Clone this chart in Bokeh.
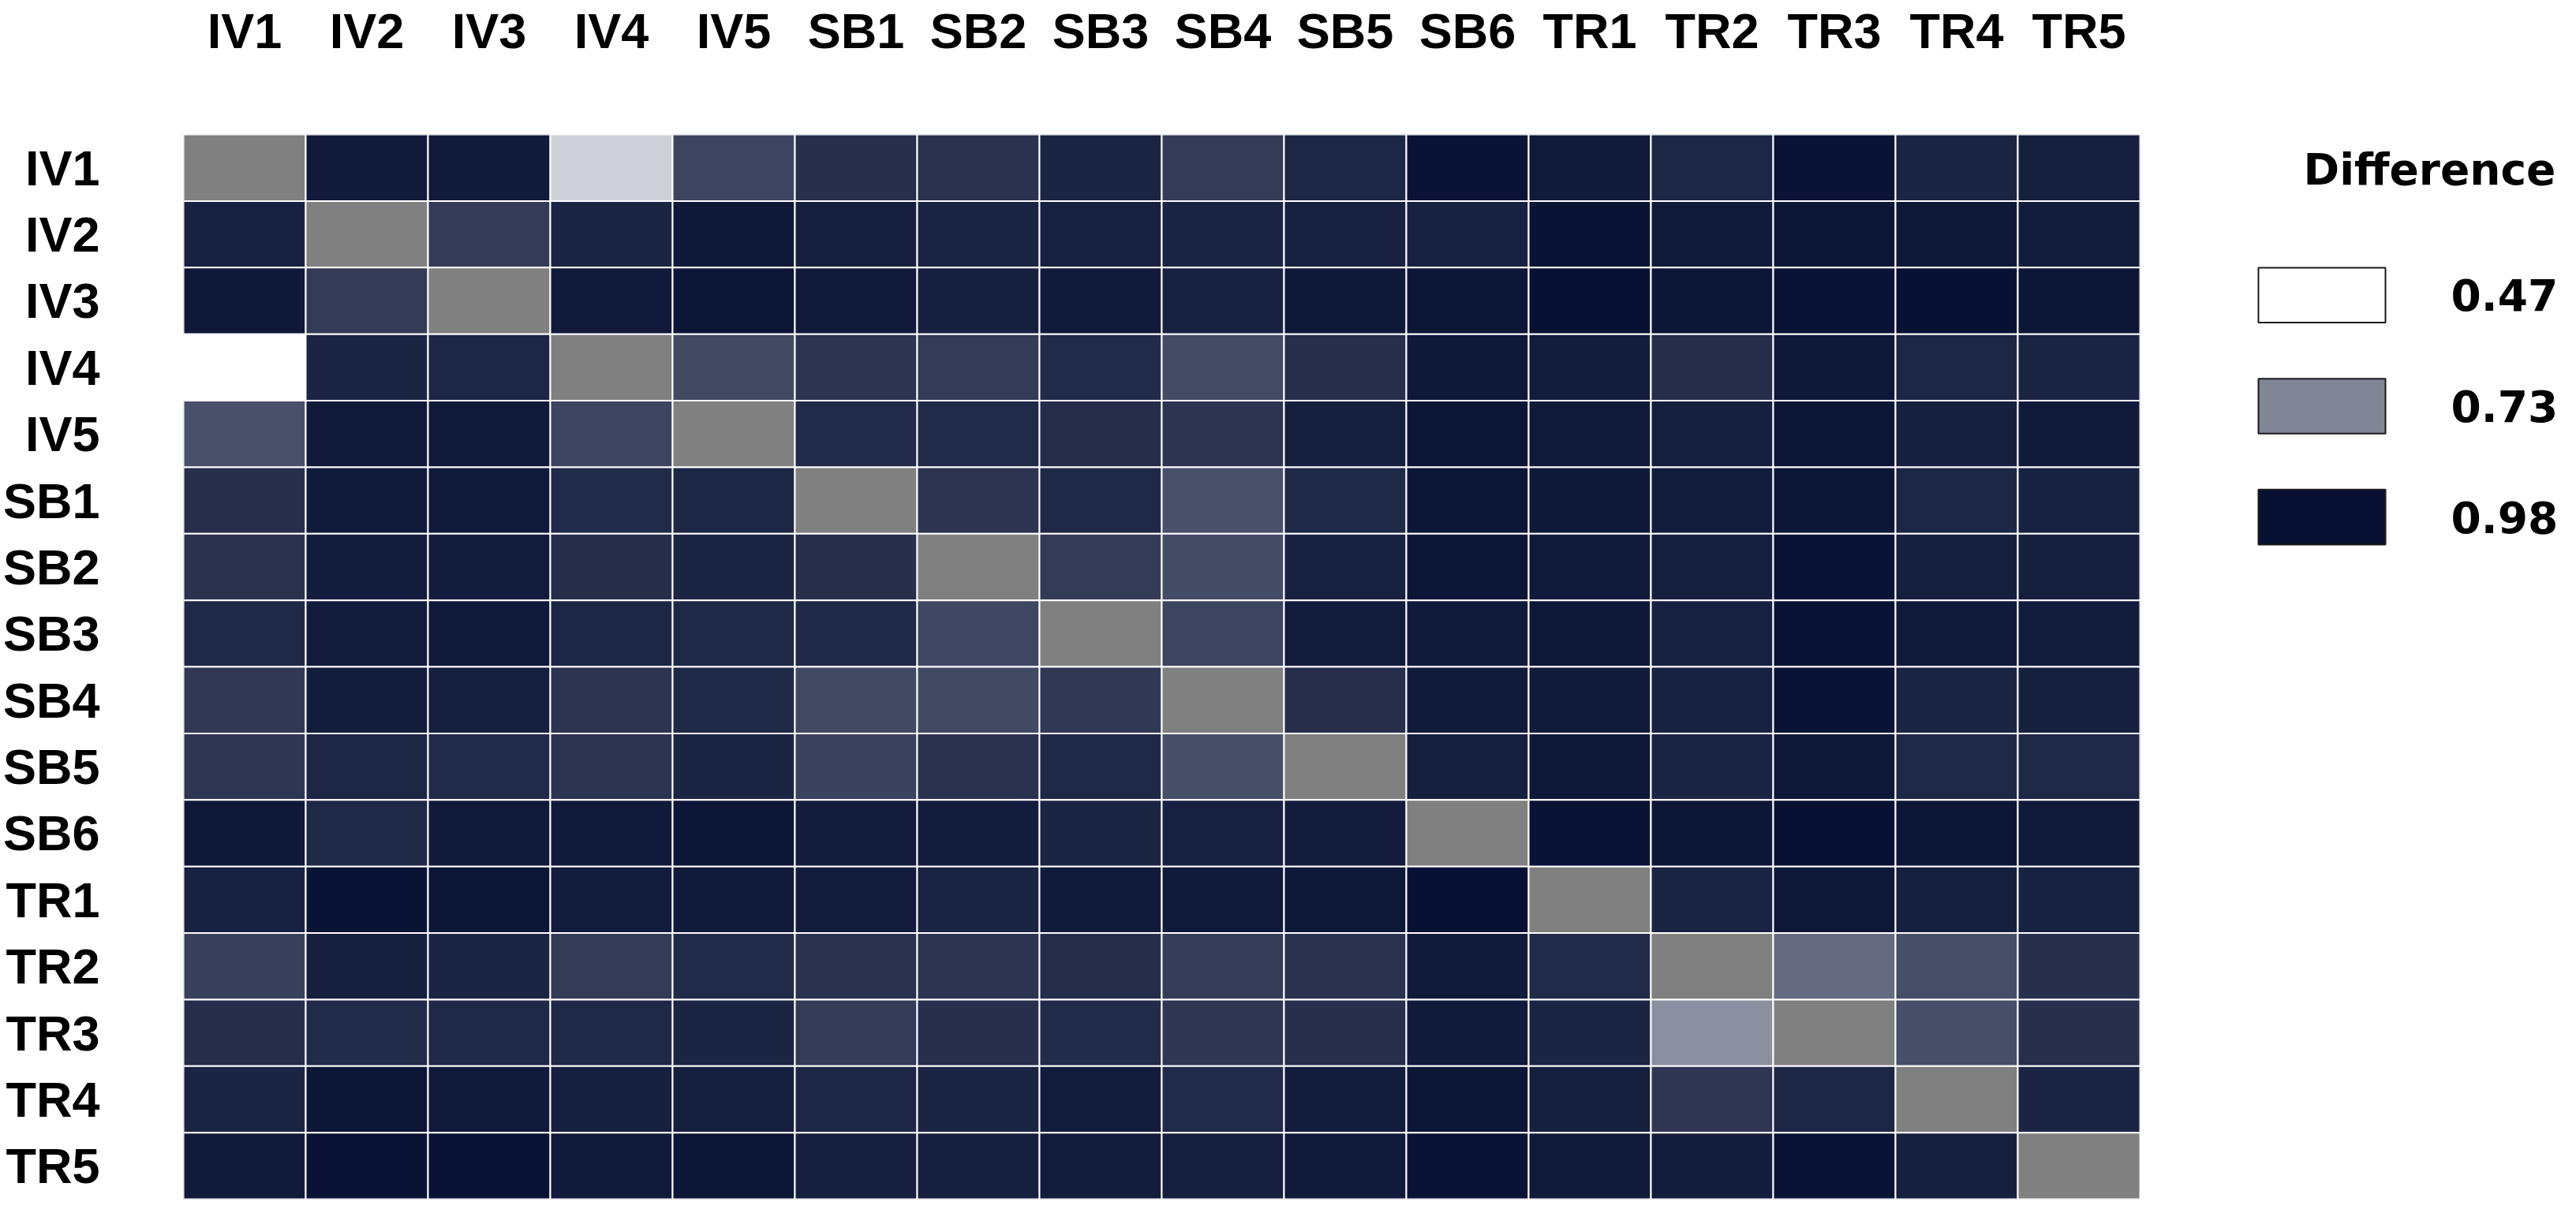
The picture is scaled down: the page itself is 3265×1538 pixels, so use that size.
import numpy as np
from bokeh.embed import file_html
from bokeh.layouts import row
from bokeh.models import ColumnDataSource, LinearColorMapper, Range1d
from bokeh.plotting import figure
from bokeh.resources import INLINE
from bokeh.transform import transform

names = ["IV1", "IV2", "IV3", "IV4", "IV5", "SB1", "SB2", "SB3", "SB4", "SB5", "SB6",
         "TR1", "TR2", "TR3", "TR4", "TR5"]
nan = float("nan")

# one list per row, columns in the order of names (diagonal = missing)
iv1 = [nan, .96, .96, .57, .87, .915, .91, .94, .89, .935, .975, .96, .935, .975, .94, .95]
iv2 = [.945, nan, .89, .94, .965, .95, .94, .945, .94, .945, .945, .975, .96, .97, .965, .955]
iv3 = [.965, .89, nan, .96, .97, .96, .95, .96, .945, .965, .97, .98, .97, .975, .98, .97]
iv4 = [.47, .94, .935, nan, .86, .905, .89, .925, .855, .915, .965, .955, .92, .965, .935, .94]
iv5 = [.845, .96, .96, .87, nan, .925, .925, .92, .905, .95, .97, .96, .95, .97, .95, .96]
sb1 = [.915, .96, .96, .925, .935, nan, .905, .93, .845, .93, .97, .965, .955, .97, .935, .945]
sb2 = [.91, .955, .955, .92, .94, .915, nan, .89, .855, .945, .97, .96, .95, .975, .95, .95]
sb3 = [.93, .955, .96, .935, .93, .93, .865, nan, .87, .955, .96, .965, .945, .975, .96, .955]
sb4 = [.895, .955, .95, .905, .93, .86, .86, .895, nan, .915, .96, .96, .945, .975, .94, .95]
sb5 = [.9, .935, .925, .905, .94, .875, .91, .93, .85, nan, .95, .965, .94, .965, .93, .93]
sb6 = [.965, .93, .96, .96, .97, .955, .955, .94, .945, .955, nan, .975, .97, .98, .97, .96]
tr1 = [.945, .975, .97, .955, .96, .955, .94, .96, .96, .965, .98, nan, .94, .965, .95, .945]
tr2 = [.88, .95, .94, .89, .925, .91, .905, .92, .885, .91, .96, .925, nan, .79, .85, .915]
tr3 = [.92, .925, .93, .93, .94, .89, .915, .925, .9, .915, .96, .94, .71, nan, .85, .915]
tr4 = [.94, .97, .96, .95, .95, .935, .94, .955, .925, .955, .97, .95, .9, .935, nan, .94]
tr5 = [.96, .975, .975, .96, .97, .95, .95, .955, .95, .96, .975, .96, .955, .975, .95, nan]
matrix = [iv1, iv2, iv3, iv4, iv5, sb1, sb2, sb3, sb4, sb5, sb6, tr1, tr2, tr3, tr4, tr5]

legend_values = [0.47, 0.73, 0.98]
legend_labels = ["0.47", "0.73", "0.98"]
low_color = (255, 255, 255)
high_color = (8, 17, 51)

palette = []
for i in range(256):
    t = i / 255
    c = [round(a + (b - a) * t) for a, b in zip(low_color, high_color)]
    palette.append("#%02x%02x%02x" % tuple(c))
mapper = LinearColorMapper(palette=palette, low=min(legend_values), high=max(legend_values),
                           nan_color="#808080")

xs, ys, vals = [], [], []
for r, row_vals in zip(names, matrix):
    for c, v in zip(names, row_vals):
        xs.append(c)
        ys.append(r)
        vals.append(v)
source = ColumnDataSource(data=dict(x=xs, y=ys, value=np.array(vals, dtype=float)))

H = 1522
BORDER_TOP, BORDER_BOTTOM = 162, 2

p = figure(x_range=names, y_range=list(reversed(names)), width=2722, height=H,
           x_axis_location="above", toolbar_location=None, output_backend="svg",
           min_border_left=224, min_border_top=BORDER_TOP, min_border_bottom=BORDER_BOTTOM,
           min_border_right=10)
p.rect(x="x", y="y", width=1, height=1, source=source,
       fill_color=transform("value", mapper), line_color="white", line_width=2)

p.outline_line_color = None
p.grid.grid_line_color = None
for ax in (p.xaxis, p.yaxis):
    ax.axis_line_color = None
    ax.major_tick_line_color = None
    ax.minor_tick_line_color = None
    ax.major_label_text_font = "Liberation Sans"
    ax.major_label_text_font_style = "bold"
    ax.major_label_text_font_size = "63px"
    ax.major_label_text_color = "black"
p.xaxis.major_label_standoff = 91
p.yaxis.major_label_standoff = 100

# legend panel on the right; its data units are page pixels
page_left, page_right = 8 + 2722, 8 + 2722 + 527
lg = figure(width=527, height=H, x_range=Range1d(page_left, page_right),
            y_range=Range1d(8 + H - BORDER_BOTTOM, 8 + BORDER_TOP),
            toolbar_location=None, output_backend="svg",
            min_border_left=0, min_border_right=0,
            min_border_top=BORDER_TOP, min_border_bottom=BORDER_BOTTOM)
lg.axis.visible = False
lg.grid.grid_line_color = None
lg.outline_line_color = None

pitch = 141.5
ly = [375 + i * pitch for i in range(len(legend_values))]
lsrc = ColumnDataSource(data=dict(v=legend_values, lab=legend_labels, y=ly,
                                  bx=[2950.5] * 3, tx=[3114] * 3))
lg.rect(x="bx", y="y", width=161, height=70, source=lsrc,
        fill_color=transform("v", mapper), line_color="#1a1a1a", line_width=2)
lg.text(x="tx", y="y", text="lab", source=lsrc, text_font_style="bold",
        text_font={"value": "DejaVu Sans"}, text_font_size="55px",
        text_baseline="middle", text_align="left", text_color="black")
lg.text(x=[2927], y=[215], text=["Difference"], text_font_style="bold",
        text_font={"value": "DejaVu Sans"}, text_font_size="55px",
        text_baseline="middle", text_align="left", text_color="black")

open("out.html", "w").write(file_html(row(p, lg), INLINE))
